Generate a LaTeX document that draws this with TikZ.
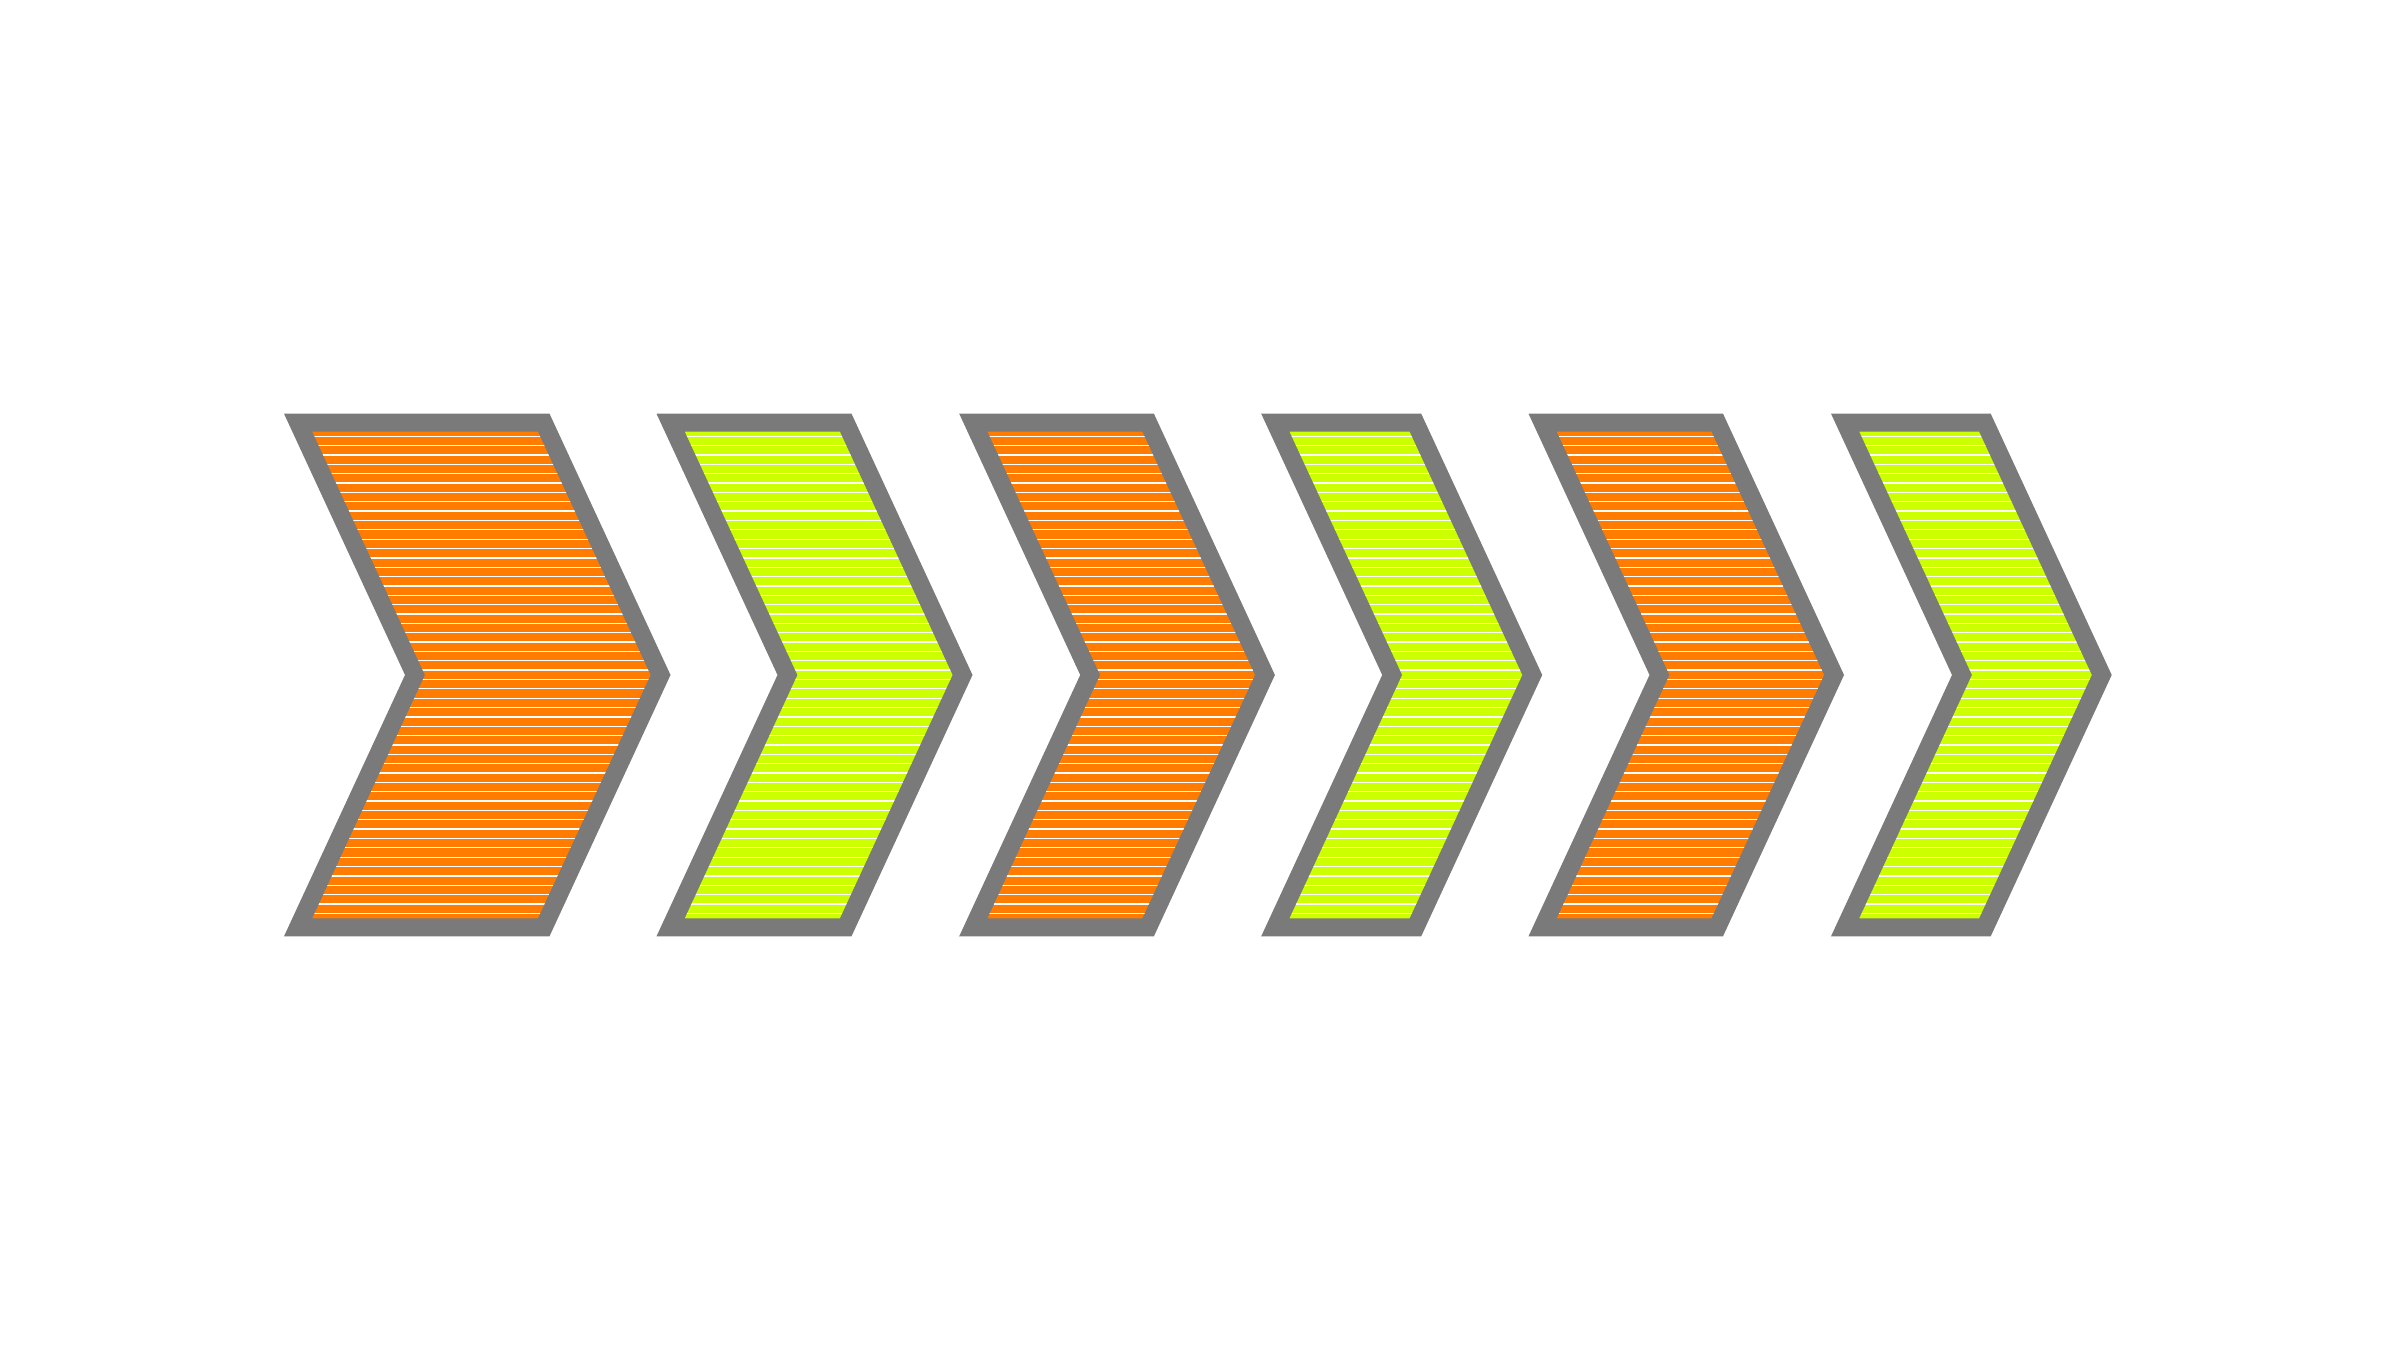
\documentclass[tikz,border=0pt]{standalone}
\usepackage{tikz}
\usetikzlibrary{calc}

\definecolor{chevorange}{RGB}{255,124,0}
\definecolor{chevgreen}{RGB}{204,255,0}
\definecolor{chevgray}{RGB}{122,122,122}

\tikzset{
	rim/.style={draw=chevgray, line width=1.8mm, line join=miter},
	stripe/.style={draw=white, line width=0.13mm}
}

\begin{document}
\begin{tikzpicture}[x=0.1mm, y=0.1mm]
	
	\useasboundingbox (0,0) rectangle (2400,1350);
	
	%// left edge / top width / colour of each chevron
	\foreach \a/\w/\col in {284/265.5/chevorange, 656.5/195/chevgreen, 959.2/194.7/chevorange, 1261.2/160/chevgreen, 1528.5/194.5/chevorange, 1831/159.7/chevgreen}
	{
		\coordinate (tl) at (\a+14.09, 927.3);
		\coordinate (tr) at (\a+\w-5.75, 927.3);
		\coordinate (tip) at (\a+\w+111.08, 675);
		\coordinate (br) at (\a+\w-5.75, 422.7);
		\coordinate (bl) at (\a+14.09, 422.7);
		\coordinate (notch) at (\a+130.92, 675);
		
		\begin{scope}
			\clip (tl) -- (tr) -- (tip) -- (br) -- (bl) -- (notch) -- cycle;
			\fill [\col] (\a, 400) rectangle (\a+\w+140, 950);
			\foreach \k in {0,...,51}
			\draw [stripe] (\a, 913.7-\k*9.353) -- ++(\w+140, 0);
		\end{scope}
		
		\draw [rim] (tl) -- (tr) -- (tip) -- (br) -- (bl) -- (notch) -- cycle;
	}
	
\end{tikzpicture}
\end{document}
